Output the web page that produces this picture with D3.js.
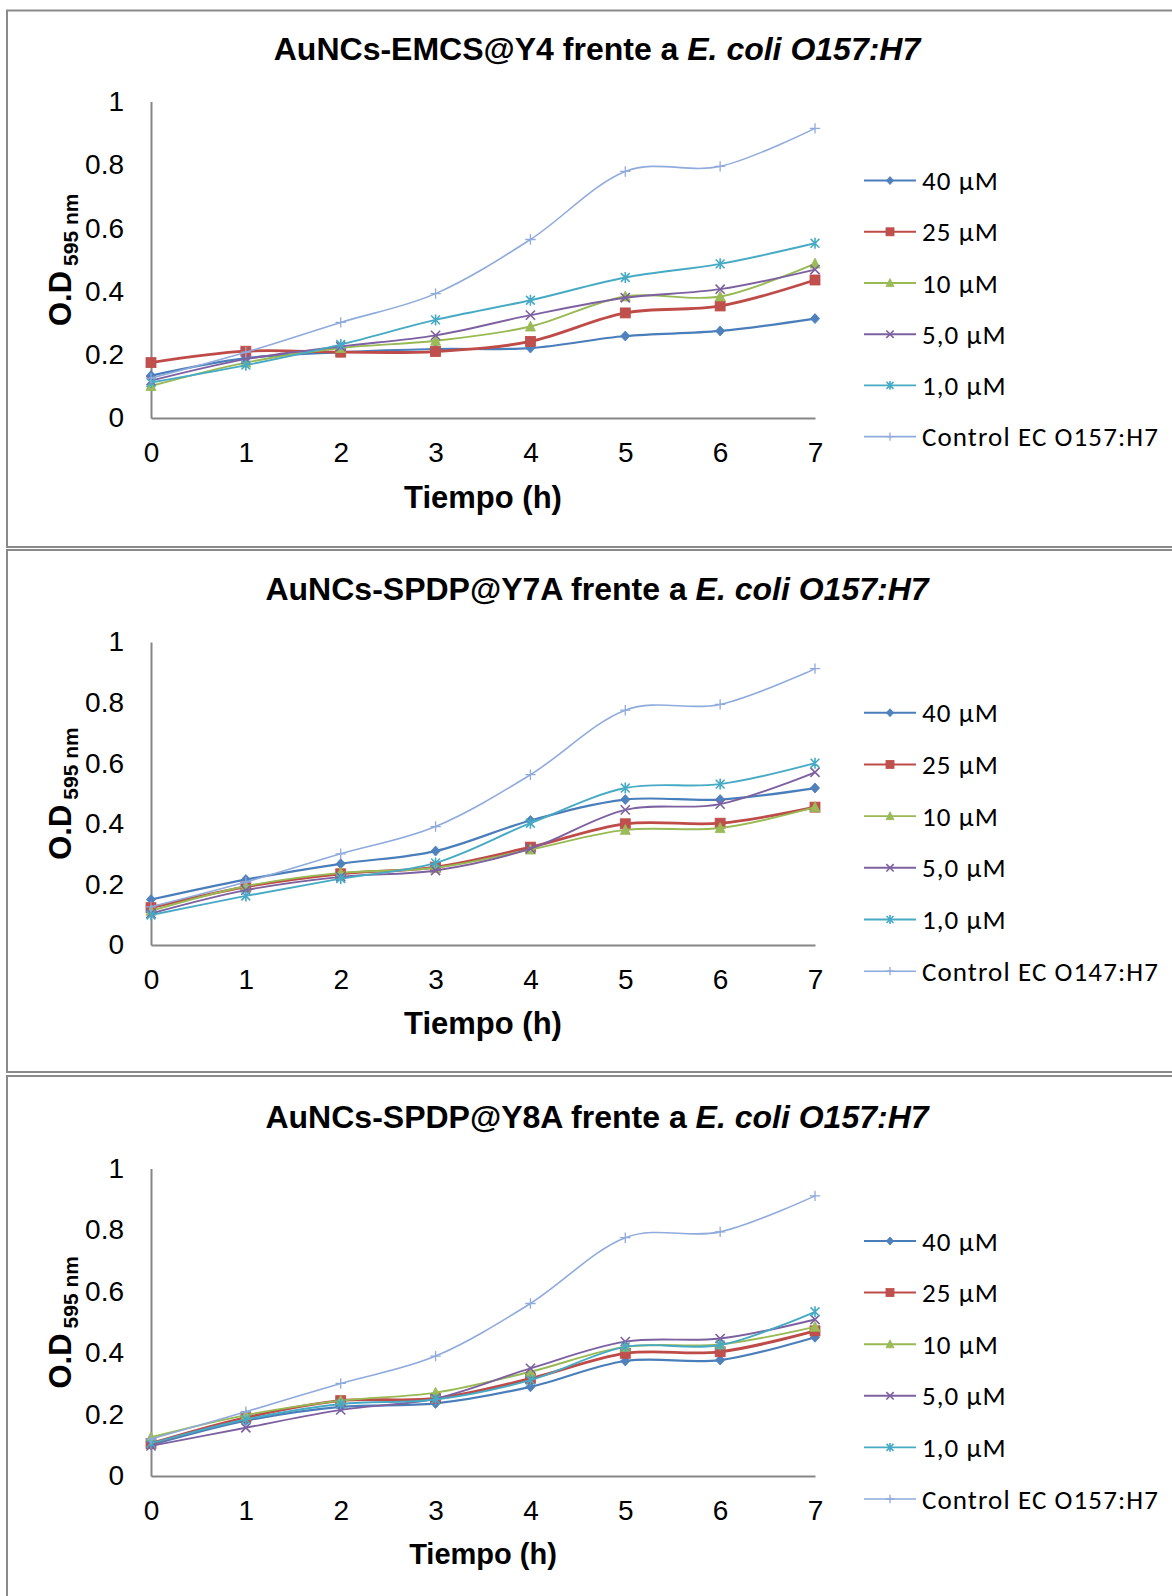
<!DOCTYPE html>
<html>
<head>
<meta charset="utf-8">
<script src="https://cdn.jsdelivr.net/npm/d3@7"></script>
<style>
  html, body { margin: 0; padding: 0; background: #fff; }
  svg { display: block; }
</style>
</head>
<body>
<script>
// Growth curves (O.D at 595 nm) of E. coli O157:H7 exposed to gold nanocluster conjugates.

const hours = ["0", "1", "2", "3", "4", "5", "6", "7"];
const yTicks = [0, 0.2, 0.4, 0.6, 0.8, 1];
const concentrationLabels = ["40 \u00B5M", "25 \u00B5M", "10 \u00B5M", "5,0 \u00B5M", "1,0 \u00B5M"];
const controlLabels = ["Control EC O157:H7", "Control EC O147:H7", "Control EC O157:H7"];
const titleConjugates = ["AuNCs-EMCS@Y4 frente a ", "AuNCs-SPDP@Y7A frente a ", "AuNCs-SPDP@Y8A frente a "];
const titleOrganism = "E. coli O157:H7";
const xAxisTitle = "Tiempo (h)";

// AuNCs-EMCS@Y4
const emcsY4_40 = [0.134, 0.189, 0.208, 0.218, 0.221, 0.259, 0.275, 0.314];
const emcsY4_25 = [0.175, 0.211, 0.208, 0.210, 0.242, 0.332, 0.354, 0.436];
const emcsY4_10 = [0.101, 0.175, 0.221, 0.244, 0.289, 0.384, 0.384, 0.488];
const emcsY4_5 = [0.118, 0.186, 0.226, 0.261, 0.325, 0.380, 0.407, 0.469];
const emcsY4_1 = [0.112, 0.167, 0.232, 0.310, 0.372, 0.444, 0.487, 0.552];
const emcsY4_ctrl = [0.126, 0.208, 0.302, 0.393, 0.564, 0.779, 0.795, 0.915];

// AuNCs-SPDP@Y7A
const spdpY7A_40 = [0.150, 0.216, 0.268, 0.310, 0.411, 0.480, 0.480, 0.518];
const spdpY7A_25 = [0.123, 0.192, 0.235, 0.257, 0.323, 0.400, 0.402, 0.455];
const spdpY7A_10 = [0.113, 0.194, 0.238, 0.255, 0.315, 0.380, 0.386, 0.455];
const spdpY7A_5 = [0.104, 0.181, 0.225, 0.246, 0.318, 0.446, 0.465, 0.570];
const spdpY7A_1 = [0.099, 0.162, 0.219, 0.271, 0.402, 0.518, 0.531, 0.600];
const spdpY7A_ctrl = [0.126, 0.208, 0.301, 0.391, 0.562, 0.775, 0.794, 0.912];

// AuNCs-SPDP@Y8A
const spdpY8A_40 = [0.101, 0.180, 0.225, 0.236, 0.290, 0.374, 0.377, 0.451];
const spdpY8A_25 = [0.106, 0.190, 0.245, 0.252, 0.317, 0.399, 0.404, 0.472];
const spdpY8A_10 = [0.126, 0.198, 0.245, 0.271, 0.339, 0.420, 0.428, 0.485];
const spdpY8A_5 = [0.098, 0.157, 0.215, 0.252, 0.350, 0.437, 0.447, 0.509];
const spdpY8A_1 = [0.106, 0.184, 0.234, 0.249, 0.312, 0.420, 0.426, 0.534];
const spdpY8A_ctrl = [0.120, 0.209, 0.301, 0.390, 0.561, 0.775, 0.794, 0.911];

// Series styling: line colour, marker fill, marker shape, line width
const seriesStyles = [
  { line: "#4a7ebb", fill: "#4f81bd", shape: "diamond", width: 2.2 },
  { line: "#be4b48", fill: "#c0504d", shape: "square", width: 2.8 },
  { line: "#98b954", fill: "#9bbb59", shape: "triangle", width: 1.9 },
  { line: "#7d60a0", fill: "#8064a2", shape: "x", width: 1.9 },
  { line: "#46aac5", fill: "#4bacc6", shape: "asterisk", width: 1.9 },
  { line: "#8faadc", fill: "#8faadc", shape: "plus", width: 1.6 }
];

const panels = [
  { top: 10.5, bottom: 547, plotTop: 101.5, plotBottom: 418, titleY: 49, xTitleY: 497, xTitleSize: 31,
    legendY: 180.6, legendStep: 51.2, title: titleConjugates[0], control: controlLabels[0],
    series: [emcsY4_40, emcsY4_25, emcsY4_10, emcsY4_5, emcsY4_1, emcsY4_ctrl] },
  { top: 550, bottom: 1072, plotTop: 642, plotBottom: 945, titleY: 588.5, xTitleY: 1023, xTitleSize: 31,
    legendY: 712.7, legendStep: 51.7, title: titleConjugates[1], control: controlLabels[1],
    series: [spdpY7A_40, spdpY7A_25, spdpY7A_10, spdpY7A_5, spdpY7A_1, spdpY7A_ctrl] },
  { top: 1076, bottom: 1640, plotTop: 1168.5, plotBottom: 1476, titleY: 1117, xTitleY: 1554, xTitleSize: 29,
    legendY: 1241, legendStep: 51.6, title: titleConjugates[2], control: controlLabels[2],
    series: [spdpY8A_40, spdpY8A_25, spdpY8A_10, spdpY8A_5, spdpY8A_1, spdpY8A_ctrl] }
];

const W = 1172, H = 1596;
const ARIAL = "'Liberation Sans', Arial, sans-serif";
const LEGEND_FONT = "Carlito, Calibri, Lato, sans-serif";

const svg = d3.select("body").append("svg")
  .attr("width", W).attr("height", H)
  .attr("viewBox", `0 0 ${W} ${H}`);

svg.append("rect").attr("width", W).attr("height", H).attr("fill", "#fff");

function drawMarker(g, shape, style, x, y, k) {
  const s = k;
  if (shape === "diamond") {
    g.append("path")
      .attr("d", `M${x},${y - 5 * s}L${x + 4.6 * s},${y}L${x},${y + 5 * s}L${x - 4.6 * s},${y}Z`)
      .attr("fill", style.fill).attr("stroke", style.line).attr("stroke-width", 0.8);
  } else if (shape === "square") {
    g.append("rect")
      .attr("x", x - 5 * s).attr("y", y - 5 * s).attr("width", 10 * s).attr("height", 10 * s)
      .attr("fill", style.fill).attr("stroke", style.line).attr("stroke-width", 0.8);
  } else if (shape === "triangle") {
    g.append("path")
      .attr("d", `M${x},${y - 5.5 * s}L${x + 5 * s},${y + 4.5 * s}L${x - 5 * s},${y + 4.5 * s}Z`)
      .attr("fill", style.fill).attr("stroke", style.line).attr("stroke-width", 0.8);
  } else if (shape === "x") {
    const r = 4.6 * s;
    g.append("path")
      .attr("d", `M${x - r},${y - r}L${x + r},${y + r}M${x - r},${y + r}L${x + r},${y - r}`)
      .attr("stroke", style.line).attr("stroke-width", 1.6).attr("fill", "none");
  } else if (shape === "asterisk") {
    const r = 4.4 * s;
    g.append("path")
      .attr("d", `M${x - r},${y - r}L${x + r},${y + r}M${x - r},${y + r}L${x + r},${y - r}M${x},${y - r * 1.25}L${x},${y + r * 1.25}`)
      .attr("stroke", style.line).attr("stroke-width", 1.6).attr("fill", "none");
  } else if (shape === "plus") {
    const r = 5.2 * s;
    g.append("path")
      .attr("d", `M${x - r},${y}L${x + r},${y}M${x},${y - r}L${x},${y + r}`)
      .attr("stroke", style.line).attr("stroke-width", 1.3).attr("fill", "none");
  }
}

panels.forEach(p => {
  const g = svg.append("g");

  // Panel frame (extends past the right and bottom edges of the page)
  g.append("rect")
    .attr("x", 7).attr("y", p.top)
    .attr("width", W + 40).attr("height", p.bottom - p.top)
    .attr("fill", "#fff").attr("stroke", "#8a8a8a").attr("stroke-width", 2);

  const x = d3.scalePoint().domain(hours).range([151, 815]);
  const y = d3.scaleLinear().domain([0, 1]).range([p.plotBottom, p.plotTop]);

  // Title
  const title = g.append("text")
    .attr("x", 597).attr("y", p.titleY)
    .attr("text-anchor", "middle").attr("dominant-baseline", "central")
    .attr("font-family", ARIAL).attr("font-size", 32).attr("font-weight", "bold")
    .attr("fill", "#000");
  title.append("tspan").text(p.title);
  title.append("tspan").attr("font-style", "italic").text(titleOrganism);

  // Axes
  const yAxis = g.append("g").attr("transform", `translate(151,0)`)
    .call(d3.axisLeft(y).tickValues(yTicks).tickSize(0).tickPadding(27)
      .tickFormat(d => d === 0 ? "0" : d === 1 ? "1" : d3.format(".1f")(d)));
  const xAxis = g.append("g").attr("transform", `translate(0,${p.plotBottom})`)
    .call(d3.axisBottom(x).tickSize(0).tickPadding(24.5));

  [yAxis, xAxis].forEach(a => {
    a.select(".domain").attr("stroke", "#868686").attr("stroke-width", 2);
    a.selectAll("text").attr("font-family", ARIAL).attr("font-size", 28).attr("fill", "#000");
  });
  xAxis.selectAll("text").attr("dy", "0.71em");

  // X axis title
  g.append("text")
    .attr("x", 483).attr("y", p.xTitleY)
    .attr("text-anchor", "middle").attr("dominant-baseline", "central")
    .attr("font-family", ARIAL).attr("font-size", p.xTitleSize).attr("font-weight", "bold")
    .text(xAxisTitle);

  // Y axis title with subscript
  const cy = (p.plotTop + p.plotBottom) / 2;
  const yt = g.append("text")
    .attr("transform", `translate(71,${cy}) rotate(-90)`)
    .attr("text-anchor", "middle")
    .attr("font-family", ARIAL).attr("font-weight", "bold").attr("font-size", 31);
  yt.append("tspan").text("O.D");
  yt.append("tspan").attr("font-size", 21).attr("dx", 5).attr("dy", 7).text("595 nm");

  // Series
  const line = d3.line()
    .x((d, i) => x(hours[i]))
    .y(d => y(d))
    .curve(d3.curveCardinal.tension(0));

  p.series.forEach((values, si) => {
    const st = seriesStyles[si];
    const sg = g.append("g");
    sg.append("path")
      .datum(values)
      .attr("d", line)
      .attr("fill", "none")
      .attr("stroke", st.line)
      .attr("stroke-width", st.width)
      .attr("stroke-linejoin", "round");
    values.forEach((v, i) => drawMarker(sg, st.shape, st, x(hours[i]), y(v), 1));
  });

  // Legend
  const labels = concentrationLabels.concat([p.control]);
  labels.forEach((lab, i) => {
    const st = seriesStyles[i];
    const ly = p.legendY + i * p.legendStep;
    const lg = g.append("g");
    lg.append("line")
      .attr("x1", 864).attr("x2", 916).attr("y1", ly).attr("y2", ly)
      .attr("stroke", st.line).attr("stroke-width", Math.min(st.width, 2));
    drawMarker(lg, st.shape, st, 890, ly, 0.8);
    lg.append("text")
      .attr("x", 922).attr("y", ly)
      .attr("dominant-baseline", "central")
      .attr("font-family", LEGEND_FONT).attr("font-size", 27)
      .attr("letter-spacing", 1.1)
      .attr("fill", "#000")
      .text(lab);
  });
});
</script>
</body>
</html>
